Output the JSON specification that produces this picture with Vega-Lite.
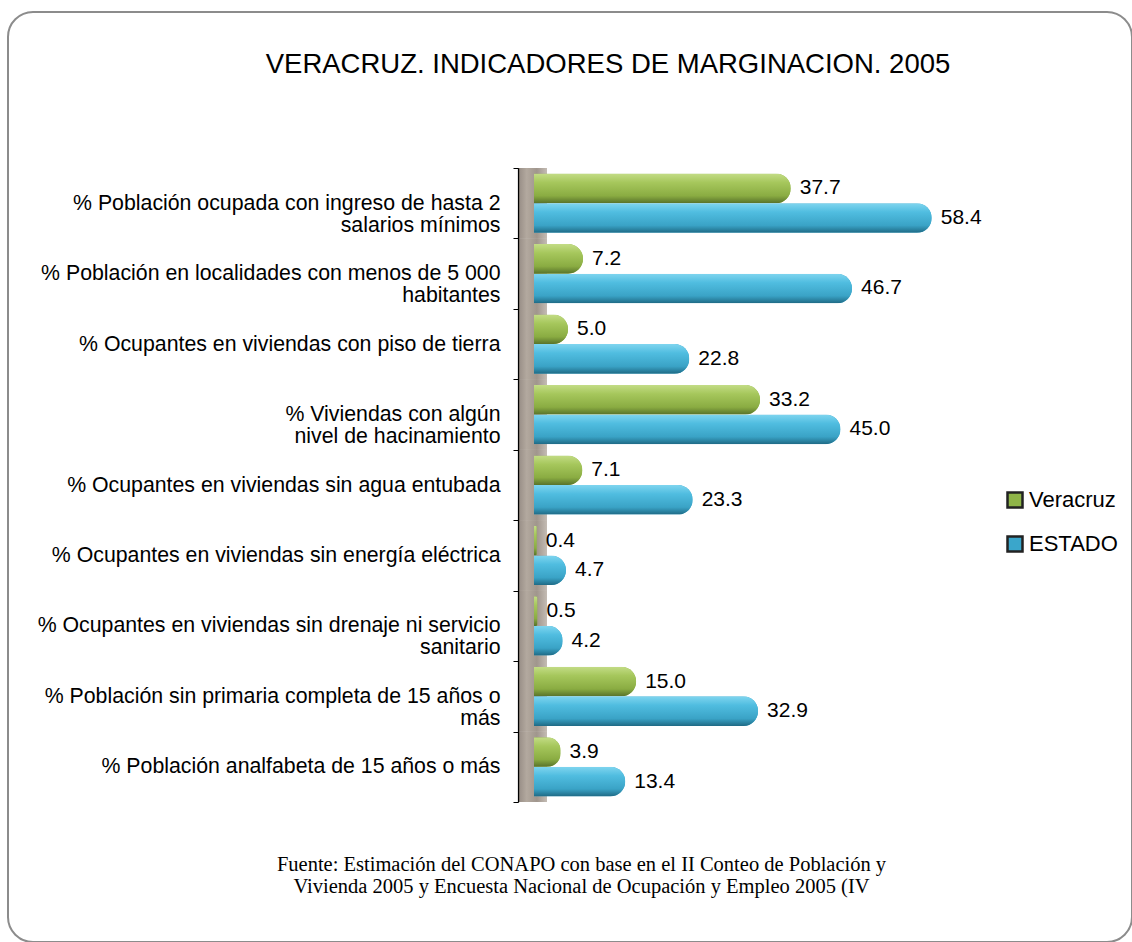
{
  "$schema": "https://vega.github.io/schema/vega-lite/v6.json",
  "width": 1132,
  "height": 942,
  "autosize": {"type": "fit", "contains": "padding"},
  "padding": {"left": 8, "top": 12, "right": 0, "bottom": 0},
  "background": "white",
  "title": {
    "text": "VERACRUZ. INDICADORES DE MARGINACION. 2005",
    "font": "Liberation Sans",
    "fontSize": 27.5,
    "fontWeight": "normal",
    "color": "black",
    "anchor": "middle",
    "dx": 38,
    "offset": -66
  },
  "data": {
    "values": [
      {"indicador": "% Población ocupada con ingreso de hasta 2\nsalarios mínimos", "serie": "Veracruz", "valor": 37.7},
      {"indicador": "% Población ocupada con ingreso de hasta 2\nsalarios mínimos", "serie": "ESTADO", "valor": 58.4},
      {"indicador": "% Población en localidades con menos de 5 000\nhabitantes", "serie": "Veracruz", "valor": 7.2},
      {"indicador": "% Población en localidades con menos de 5 000\nhabitantes", "serie": "ESTADO", "valor": 46.7},
      {"indicador": "% Ocupantes en viviendas con piso de tierra", "serie": "Veracruz", "valor": 5.0},
      {"indicador": "% Ocupantes en viviendas con piso de tierra", "serie": "ESTADO", "valor": 22.8},
      {"indicador": "% Viviendas con algún\nnivel de hacinamiento", "serie": "Veracruz", "valor": 33.2},
      {"indicador": "% Viviendas con algún\nnivel de hacinamiento", "serie": "ESTADO", "valor": 45.0},
      {"indicador": "% Ocupantes en viviendas sin agua entubada", "serie": "Veracruz", "valor": 7.1},
      {"indicador": "% Ocupantes en viviendas sin agua entubada", "serie": "ESTADO", "valor": 23.3},
      {"indicador": "% Ocupantes en viviendas sin energía eléctrica", "serie": "Veracruz", "valor": 0.4},
      {"indicador": "% Ocupantes en viviendas sin energía eléctrica", "serie": "ESTADO", "valor": 4.7},
      {"indicador": "% Ocupantes en viviendas sin drenaje ni servicio\nsanitario", "serie": "Veracruz", "valor": 0.5},
      {"indicador": "% Ocupantes en viviendas sin drenaje ni servicio\nsanitario", "serie": "ESTADO", "valor": 4.2},
      {"indicador": "% Población sin primaria completa de 15 años o\nmás", "serie": "Veracruz", "valor": 15.0},
      {"indicador": "% Población sin primaria completa de 15 años o\nmás", "serie": "ESTADO", "valor": 32.9},
      {"indicador": "% Población analfabeta de 15 años o más", "serie": "Veracruz", "valor": 3.9},
      {"indicador": "% Población analfabeta de 15 años o más", "serie": "ESTADO", "valor": 13.4}
    ]
  },
  "encoding": {
    "y": {
      "field": "indicador", "type": "nominal", "sort": null,
      "scale": {"range": [156, 790], "paddingInner": 0, "paddingOuter": 0},
      "axis": {
        "title": null,
        "offset": -510,
        "zindex": 1,
        "domainColor": "black",
        "domainWidth": 1.2,
        "tickColor": "black",
        "tickSize": 5,
        "tickBand": "extent",
        "labelFont": "Liberation Sans",
        "labelFontSize": {"condition": {"test": "isString(datum.value)", "value": 21.3}, "value": 0},
        "labelColor": "black",
        "labelPadding": 13,
        "labelLimit": 0,
        "labelLineHeight": 22,
        "labelExpr": "isString(datum.value) ? split(datum.value, '\\n') : ''"
      }
    },
    "x": {
      "field": "valor", "type": "quantitative",
      "scale": {"domain": [0, 60], "range": [526, 934.6], "nice": false, "zero": false},
      "axis": {
        "title": [
          "Fuente: Estimación del CONAPO con base en el II Conteo de Población  y",
          "Vivienda 2005 y Encuesta Nacional de Ocupación y Empleo 2005 (IV"
        ],
        "titleFont": "Liberation Serif",
        "titleFontSize": 20.5,
        "titleFontWeight": "normal",
        "titleColor": "black",
        "titleLineHeight": 22,
        "titleX": 573,
        "titleY": -88,
        "titleAlign": "center",
        "titleBaseline": "top",
        "labels": false,
        "ticks": false,
        "domain": false,
        "grid": false
      }
    }
  },
  "layer": [
    {
      "mark": {
        "type": "rect",
        "color": {
          "gradient": "linear", "x1": 0, "y1": 0, "x2": 1, "y2": 0,
          "stops": [
            {"offset": 0, "color": "#5d5650"},
            {"offset": 0.07, "color": "#9c928a"},
            {"offset": 0.3, "color": "#b3a99f"},
            {"offset": 0.65, "color": "#a0968d"},
            {"offset": 1, "color": "#c4bcb4"}
          ]
        }
      },
      "encoding": {
        "x": {"datum": -2.35, "type": "quantitative"},
        "x2": {"datum": 1.91}
      }
    },
    {
      "mark": {"type": "bar", "cornerRadiusEnd": 15, "x2Offset": -6},
      "encoding": {
        "yOffset": {
          "field": "serie", "type": "nominal", "sort": ["Veracruz", "ESTADO"],
          "scale": {"paddingOuter": 0.19, "paddingInner": 0}
        },
        "color": {
          "field": "serie", "type": "nominal", "sort": ["Veracruz", "ESTADO"],
          "scale": {"domain": ["Veracruz", "ESTADO"], "range": ["#8fb548", "#3aa6cb"]},
          "legend": {
            "orient": "none",
            "legendX": 996,
            "legendY": 477,
            "title": null,
            "padding": 0,
            "symbolType": "square",
            "symbolSize": 225,
            "symbolStrokeColor": "#222222",
            "symbolStrokeWidth": 2.5,
            "labelFont": "Liberation Sans",
            "labelFontSize": 22,
            "labelColor": "black",
            "labelOffset": 3,
            "rowPadding": 18
          }
        }
      }
    },
    {
      "mark": {"type": "bar", "cornerRadiusEnd": 15, "x2Offset": -6},
      "encoding": {
        "yOffset": {"field": "serie", "type": "nominal", "sort": ["Veracruz", "ESTADO"]},
        "color": {
          "condition": {
            "test": "datum.serie === 'Veracruz'",
            "value": {"gradient": "linear", "x1": 0, "y1": 0, "x2": 0, "y2": 1,
              "stops": [{"offset": 0, "color": "#c3dc86"}, {"offset": 0.3, "color": "#a6c75c"}, {"offset": 0.75, "color": "#8aac42"}, {"offset": 1, "color": "#58722a"}]}
          },
          "value": {"gradient": "linear", "x1": 0, "y1": 0, "x2": 0, "y2": 1,
            "stops": [{"offset": 0, "color": "#7fd5ef"}, {"offset": 0.3, "color": "#50bde0"}, {"offset": 0.75, "color": "#3aa3c6"}, {"offset": 1, "color": "#1f6a85"}]}
        }
      }
    },
    {
      "mark": {"type": "text", "align": "left", "baseline": "middle", "dx": 9, "font": "Liberation Sans", "fontSize": 21, "color": "black"},
      "encoding": {
        "yOffset": {"field": "serie", "type": "nominal", "sort": ["Veracruz", "ESTADO"]},
        "text": {"field": "valor", "type": "quantitative", "format": ".1f"}
      }
    }
  ],
  "config": {
    "view": {"stroke": "#8c8c8c", "strokeWidth": 2, "cornerRadius": 25}
  }
}
